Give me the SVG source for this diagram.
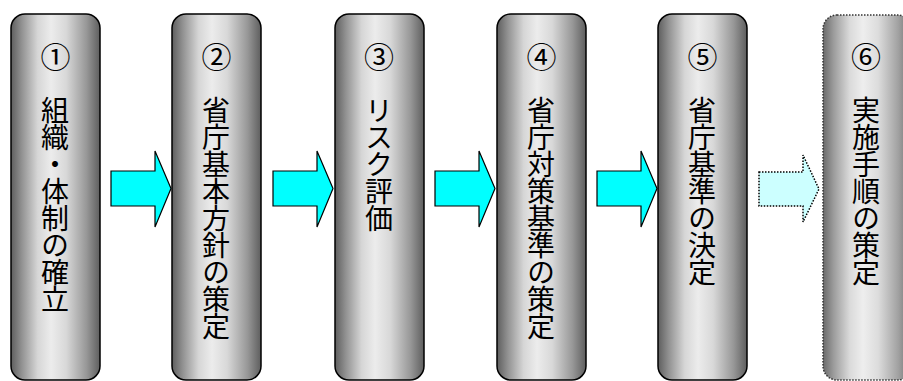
<svg xmlns="http://www.w3.org/2000/svg" width="903" height="381" viewBox="0 0 903 381">
<defs>
<linearGradient id="g" x1="0" y1="0" x2="1" y2="0">
<stop offset="0" stop-color="#5e5e5e"/>
<stop offset="0.12" stop-color="#919191"/>
<stop offset="0.3" stop-color="#d6d6d6"/>
<stop offset="0.45" stop-color="#ececec"/>
<stop offset="0.62" stop-color="#d8d8d8"/>
<stop offset="0.85" stop-color="#979797"/>
<stop offset="1" stop-color="#5e5e5e"/>
</linearGradient>
<linearGradient id="g6" x1="0" y1="0" x2="1" y2="0">
<stop offset="0" stop-color="#6a6a6a"/>
<stop offset="0.12" stop-color="#9c9c9c"/>
<stop offset="0.3" stop-color="#dadada"/>
<stop offset="0.45" stop-color="#eeeeee"/>
<stop offset="0.62" stop-color="#dcdcdc"/>
<stop offset="0.85" stop-color="#a0a0a0"/>
<stop offset="1" stop-color="#6a6a6a"/>
</linearGradient>
</defs>
<style>
.box{fill:url(#g);stroke:#000;stroke-width:1.5}
.box6{fill:url(#g6);stroke:#333;stroke-width:1.5;stroke-dasharray:1.5 1.5}
.num{font-family:"Noto Sans CJK JP","Liberation Serif",serif;font-size:30px;text-anchor:middle;dominant-baseline:central;fill:#000}
.lbl{font-family:"Noto Sans CJK JP",sans-serif;font-size:28px;letter-spacing:-1px;writing-mode:vertical-rl;fill:#000}
.arr{fill:#00ffff;stroke:#000;stroke-width:1.2}
.arr6{fill:#ccffff;stroke:#000;stroke-width:1.5;stroke-dasharray:1.5 1.5}
</style>
<g id="connectors">
<polygon class="arr" points="111,171 155,171 155,151 171,188.5 155,227 155,206 111,206"/>
<polygon class="arr" points="273,171 317,171 317,151 333,188.5 317,227 317,206 273,206"/>
<polygon class="arr" points="435,171 479,171 479,151 495,188.5 479,227 479,206 435,206"/>
<polygon class="arr" points="597,171 641,171 641,151 657,188.5 641,227 641,206 597,206"/>
<polygon class="arr6" points="759,172 803,172 803,155 819,189 803,222 803,206 759,206"/>
</g>
<g id="node1">
<rect class="box" x="11" y="14" width="89" height="366" rx="14"/>
<text class="num" x="55.5" y="55">①</text>
<text class="lbl" x="55" y="96">組織・体制の確立</text>
</g>
<g id="node2">
<rect class="box" x="172" y="14" width="89" height="366" rx="14"/>
<text class="num" x="216.5" y="55">②</text>
<text class="lbl" x="216" y="96">省庁基本方針の策定</text>
</g>
<g id="node3">
<rect class="box" x="335" y="14" width="89" height="366" rx="14"/>
<text class="num" x="379" y="55">③</text>
<text class="lbl" x="379" y="96">リスク評価</text>
</g>
<g id="node4">
<rect class="box" x="497" y="14" width="89" height="366" rx="14"/>
<text class="num" x="541.5" y="55">④</text>
<text class="lbl" x="541" y="96">省庁対策基準の策定</text>
</g>
<g id="node5">
<rect class="box" x="658" y="14" width="89" height="366" rx="14"/>
<text class="num" x="702.5" y="55">⑤</text>
<text class="lbl" x="702" y="96">省庁基準の決定</text>
</g>
<g id="node6">
<rect class="box6" x="823" y="15" width="89" height="365" rx="14"/>
<text class="num" x="866" y="55">⑥</text>
<text class="lbl" x="866" y="96">実施手順の策定</text>
</g>
</svg>
